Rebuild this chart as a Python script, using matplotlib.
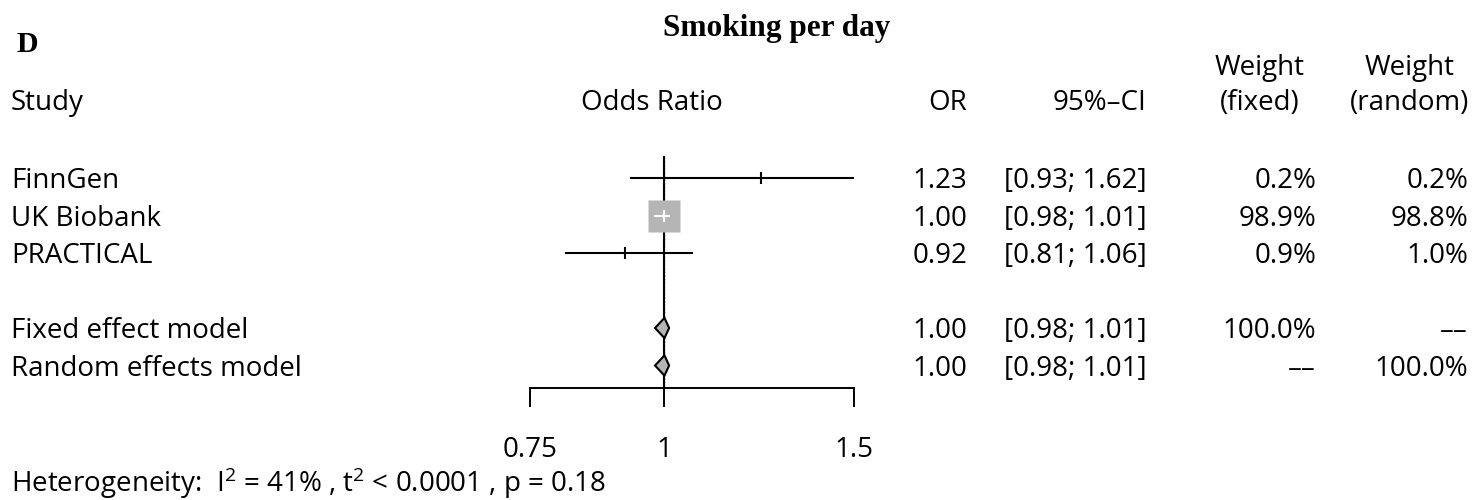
import numpy as np
import matplotlib
matplotlib.use("Agg")
import matplotlib.pyplot as plt
from matplotlib.patches import Polygon
from matplotlib import transforms

plt.rcParams["font.family"] = ["Open Sans", "DejaVu Sans"]
plt.rcParams["mathtext.fontset"] = "custom"
plt.rcParams["mathtext.rm"] = "Open Sans"
plt.rcParams["mathtext.it"] = "Open Sans"

# data
studies = ["FinnGen", "UK Biobank", "PRACTICAL"]
study_or = [1.23, 1.00, 0.92]
study_lo = [0.93, 0.98, 0.81]
study_hi = [1.62, 1.01, 1.06]
w_fixed = [0.2, 98.9, 0.9]
w_random = [0.2, 98.8, 1.0]

models = ["Fixed effect model", "Random effects model"]
model_or = [1.00, 1.00]
model_lo = [0.98, 0.98]
model_hi = [1.01, 1.01]
model_wf = ["100.0%", "--"]
model_wr = ["--", "100.0%"]

xticks = [0.75, 1, 1.5]
xticklabels = ["0.75", "1", "1.5"]
hetero = "Heterogeneity:  I$^2$ = 41% , t$^2$ < 0.0001 , p = 0.18"

W, H = 1472, 500
ROW = 37.5   # px per row
fig = plt.figure(figsize=(W / 100, H / 100), dpi=100)
# forest panel: x in log OR, y in row units (row 0 at 178 px from top)
ax = fig.add_axes([530 / W, 0, (854 - 530) / W, 1])
ax.set_xscale("log")
ax.set_xlim(0.75, 1.5)
ax.set_ylim((H - 178) / ROW, -178 / ROW)
ax.patch.set_visible(False)
for s in ["top", "left", "right"]:
    ax.spines[s].set_visible(False)
ax.yaxis.set_visible(False)
ax.spines["bottom"].set_position(("data", 5.6))
ax.spines["bottom"].set_linewidth(1.4)
ax.set_xticks(xticks)
ax.set_xticklabels(xticklabels, fontsize=20)
ax.minorticks_off()
ax.tick_params(axis="x", direction="out", length=13.5, width=1.4, pad=21)

study_rows = [0, 1, 2]
model_rows = [4, 5]
fs = 20
bl = 10 / ROW   # baseline offset below row centre

# reference line at 1
ax.plot([1, 1], [-0.55, 5.6], color="black", lw=1.5, zorder=1)
ax.plot([1, 1], [-0.55, 5.6], color="black", lw=1.0, ls=":", zorder=1)

wmax = max(w_fixed)
for r, o, lo, hi, w in zip(study_rows, study_or, study_lo, study_hi, w_fixed):
    ax.plot([lo, hi], [r, r], color="black", lw=1.5, zorder=2)
    ms = 23 * np.sqrt(w / wmax)
    if ms > 6:
        ax.plot(o, r, marker="s", ms=ms, mfc="#b5b5b5", mec="none", zorder=3)
        ax.plot([lo, hi], [r, r], color="white", lw=1.5, zorder=4)
        ax.plot(o, r, marker="|", ms=8, mew=1.5, color="white", zorder=4)
    else:
        ax.plot(o, r, marker="|", ms=8, mew=1.5, color="black", zorder=3)

for r, o, lo, hi in zip(model_rows, model_or, model_lo, model_hi):
    d = Polygon([[lo, r], [o, r - 0.27], [hi, r], [o, r + 0.27]], closed=True,
                fc="#b5b5b5", ec="black", lw=1.5, zorder=5)
    ax.add_patch(d)

tr = transforms.blended_transform_factory(fig.transFigure, ax.transData)
def fx(px):
    return px / W

def yrow(px):
    return (px - 178) / ROW

# headers
ax.text(fx(27), yrow(52), "D", transform=tr, fontsize=21.5, fontweight="bold",
        family="Liberation Serif", ha="center", va="baseline")
ax.text(fx(777), yrow(36), "Smoking per day", transform=tr, fontsize=22.5, fontweight="bold",
        family="Liberation Serif", ha="center", va="baseline")
ax.text(fx(11), yrow(110), "Study", transform=tr, fontsize=fs, ha="left", va="baseline")
ax.text(fx(652), yrow(110), "Odds Ratio", transform=tr, fontsize=fs, ha="center", va="baseline")
ax.text(fx(967), yrow(110), "OR", transform=tr, fontsize=fs, ha="right", va="baseline")
ax.text(fx(1147), yrow(110), "95%\u2013CI", transform=tr, fontsize=fs, ha="right", va="baseline")
ax.text(fx(1260), yrow(75), "Weight", transform=tr, fontsize=fs, ha="center", va="baseline")
ax.text(fx(1260), yrow(110), "(fixed)", transform=tr, fontsize=fs, ha="center", va="baseline")
ax.text(fx(1410), yrow(75), "Weight", transform=tr, fontsize=fs, ha="center", va="baseline")
ax.text(fx(1410), yrow(110), "(random)", transform=tr, fontsize=fs, ha="center", va="baseline")

def ci_txt(lo, hi):
    return f"[{lo:.2f}; {hi:.2f}]"

for r, name, o, lo, hi, wf, wr in zip(study_rows, studies, study_or, study_lo, study_hi, w_fixed, w_random):
    y = r + bl
    ax.text(fx(11), y, name, transform=tr, fontsize=fs, ha="left", va="baseline")
    ax.text(fx(967), y, f"{o:.2f}", transform=tr, fontsize=fs, ha="right", va="baseline")
    ax.text(fx(1147), y, ci_txt(lo, hi), transform=tr, fontsize=fs, ha="right", va="baseline")
    ax.text(fx(1316), y, f"{wf:.1f}%", transform=tr, fontsize=fs, ha="right", va="baseline")
    ax.text(fx(1468), y, f"{wr:.1f}%", transform=tr, fontsize=fs, ha="right", va="baseline")

for r, name, o, lo, hi, wf, wr in zip(model_rows, models, model_or, model_lo, model_hi, model_wf, model_wr):
    y = r + bl
    ax.text(fx(11), y, name, transform=tr, fontsize=fs, ha="left", va="baseline")
    ax.text(fx(967), y, f"{o:.2f}", transform=tr, fontsize=fs, ha="right", va="baseline")
    ax.text(fx(1147), y, ci_txt(lo, hi), transform=tr, fontsize=fs, ha="right", va="baseline")
    ax.text(fx(1316), y, wf.replace("--", "\u2013\u2013"), transform=tr, fontsize=fs, ha="right", va="baseline")
    ax.text(fx(1468), y, wr.replace("--", "\u2013\u2013"), transform=tr, fontsize=fs, ha="right", va="baseline")

ax.text(fx(11), yrow(492), hetero, transform=tr, fontsize=fs, ha="left", va="baseline")

fig.savefig("out.png", dpi=100)
